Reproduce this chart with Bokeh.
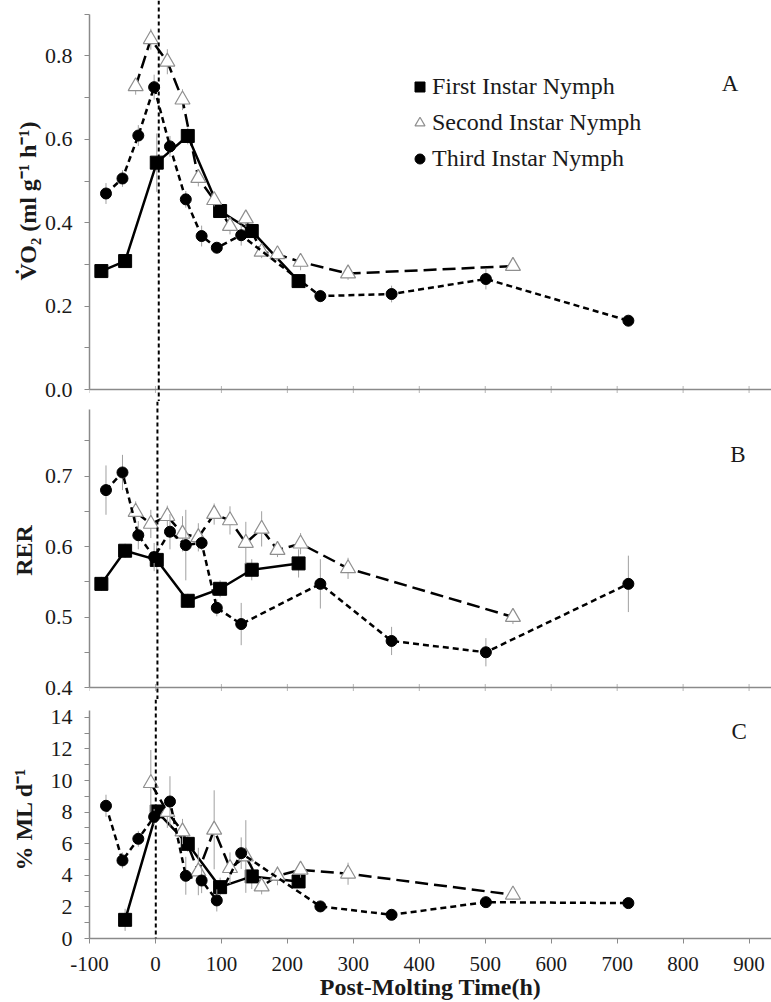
import math
from bokeh.plotting import figure
from bokeh.layouts import column
from bokeh.models import (ColumnDataSource, FixedTicker, PrintfTickFormatter, Span,
                          Label, Legend, LegendItem, Range1d)
from bokeh.embed import file_html
from bokeh.resources import INLINE

# ---------------- data ----------------
# sampling times (h) for each instar
T1 = [-82, -46, 2, 49, 98, 146, 217]
T2 = [-30, -7, 18, 41, 65, 89, 113, 137, 161, 185, 220, 292, 542]
T3 = [-75, -50, -26, -2, 22, 46, 70, 93, 130, 250, 358, 501, 717]

# Panel A: VO2 (ml g-1 h-1)
VO2_FIRST = [0.284, 0.308, 0.544, 0.608, 0.428, 0.380, 0.260]
VO2_FIRST_ERR = [0.01, 0.01, 0.07, 0.02, 0.01, 0.015, 0.01]
VO2_SECOND = [0.727, 0.840, 0.786, 0.695, 0.507, 0.454, 0.392, 0.410, 0.330, 0.324, 0.306, 0.278, 0.296]
VO2_SECOND_ERR = [0.02, 0.025, 0.03, 0.025, 0.02, 0.015, 0.02, 0.02, 0.015, 0.015, 0.02, 0.015, 0.01]
VO2_THIRD = [0.470, 0.506, 0.609, 0.725, 0.583, 0.456, 0.368, 0.340, 0.370, 0.224, 0.229, 0.265, 0.165]
VO2_THIRD_ERR = [0.025, 0.02, 0.025, 0.03, 0.025, 0.02, 0.025, 0.01, 0.025, 0.015, 0.02, 0.025, 0.01]

# Panel B: RER
RER_FIRST = [0.547, 0.594, 0.581, 0.523, 0.540, 0.567, 0.576]
RER_FIRST_ERR = [0.01, 0.01, 0.02, 0.01, 0.012, 0.015, 0.02]
RER_SECOND = [0.649, 0.632, 0.643, 0.618, 0.613, 0.646, 0.637, 0.605, 0.625, 0.595, 0.604, 0.569, 0.500]
RER_SECOND_ERR = [0.015, 0.02, 0.015, 0.025, 0.02, 0.015, 0.02, 0.03, 0.025, 0.01, 0.015, 0.015, 0.01]
RER_THIRD = [0.680, 0.705, 0.616, 0.585, 0.621, 0.602, 0.605, 0.513, 0.490, 0.547, 0.466, 0.450, 0.547]
RER_THIRD_ERR = [0.035, 0.025, 0.02, 0.02, 0.025, 0.05, 0.01, 0.012, 0.03, 0.035, 0.02, 0.02, 0.04]

# Panel C: % ML d-1 (first and second instar start at their 2nd sampling time)
ML_FIRST = [1.18, 8.04, 5.99, 3.25, 3.93, 3.61]
ML_FIRST_ERR = [0.7, 0.4, 0.5, 0.6, 0.8, 0.3]
ML_SECOND = [9.83, 8.0, 6.77, 4.24, 6.88, 4.45, 5.19, 3.29, 3.97, 4.35, 4.1, 2.77]
ML_SECOND_ERR = [2.1, 1.0, 0.8, 1.5, 2.5, 1.0, 2.3, 0.5, 0.6, 0.5, 0.7, 0.3]
ML_THIRD = [8.40, 4.94, 6.31, 7.7, 8.67, 3.97, 3.67, 2.41, 5.40, 2.03, 1.50, 2.30, 2.24]
ML_THIRD_ERR = [0.7, 0.5, 0.5, 0.5, 1.6, 1.2, 0.8, 0.7, 1.0, 0.2, 0.2, 0.2, 0.2]

SERIES_NAMES = ["First Instar Nymph", "Second Instar Nymph", "Third Instar Nymph"]
X_TICKS = [-100, 0, 100, 200, 300, 400, 500, 600, 700, 800, 900]

# ---------------- styling ----------------
SERIF = "Liberation Serif"
AXIS_GREY = "#8a8a8a"
ERR_GREY = "#a0a0a0"
TXT = "#1a1a1a"

x_range = Range1d(-100, 934)


def style_y(p, major, minor, bounds, fmt, label, standoff):
    ax = p.yaxis[0]
    ax.ticker = FixedTicker(ticks=major, minor_ticks=minor)
    ax.formatter = PrintfTickFormatter(format=fmt)
    ax.bounds = bounds
    ax.axis_line_color = AXIS_GREY
    ax.axis_line_width = 1.5
    ax.major_tick_line_color = AXIS_GREY
    ax.minor_tick_line_color = AXIS_GREY
    ax.major_tick_out = 5
    ax.major_tick_in = 0
    ax.minor_tick_out = 5
    ax.minor_tick_in = 0
    ax.major_label_text_font = SERIF
    ax.major_label_text_font_size = "22px"
    ax.major_label_text_color = TXT
    ax.major_label_standoff = 12
    ax.axis_label = label
    ax.axis_label_text_font = SERIF
    ax.axis_label_text_font_style = "bold"
    ax.axis_label_text_font_size = "24px"
    ax.axis_label_text_color = TXT
    ax.axis_label_standoff = standoff


def make_panel(frame_h, y0, y1, with_x_axis):
    p = figure(frame_width=682, frame_height=frame_h, x_range=x_range,
               y_range=Range1d(y0, y1), output_backend="svg", toolbar_location=None,
               min_border_left=89, min_border_right=0, min_border_top=0,
               min_border_bottom=0,
               x_axis_location="below" if with_x_axis else None)
    p.grid.visible = False
    p.outline_line_color = None
    p.background_fill_color = "white"
    p.border_fill_color = "white"
    return p


def baseline(p, yv):
    # horizontal axis line of a panel without tick labels, with its small ticks
    p.add_layout(Span(location=yv, dimension="width", line_color=AXIS_GREY,
                      line_width=1.5))
    p.scatter(x=X_TICKS, y=[yv] * len(X_TICKS), marker="dash", angle=math.pi / 2,
              size=7, line_color="#b5b5b5", line_width=1)


def add_series(p, t, v, e, kind):
    src = ColumnDataSource(dict(t=t, v=v,
                                lo=[a - b for a, b in zip(v, e)],
                                hi=[a + b for a, b in zip(v, e)]))
    p.segment(x0="t", y0="lo", x1="t", y1="hi", source=src,
              line_color=ERR_GREY, line_width=1)
    if kind == 1:
        p.line("t", "v", source=src, line_color="black", line_width=2.5)
        r = p.scatter("t", "v", source=src, marker="square", size=13,
                      fill_color="black", line_color="black")
    elif kind == 2:
        p.line("t", "v", source=src, line_color="black", line_width=2.5,
               line_dash="13 6")
        r = p.scatter("t", "v", source=src, marker="triangle", size=15,
                      fill_color="white", line_color="#8f8f8f", line_width=1.2)
    else:
        p.line("t", "v", source=src, line_color="black", line_width=2.5,
               line_dash="6 4")
        r = p.scatter("t", "v", source=src, marker="circle", size=11,
                      fill_color="black", line_color="black")
    return r


def panel_letter(p, x, y, txt):
    p.add_layout(Label(x=x, y=y, text=txt, text_font=SERIF, text_font_size="23px",
                       text_color=TXT, text_align="center", text_baseline="middle"))


def molt_line(p, x):
    p.add_layout(Span(location=x, dimension="height", line_color="black",
                      line_width=2, line_dash="4 3"))


# ---------------- panel A ----------------
pa = make_panel(401, -12 / 417, 389 / 417, False)
style_y(pa, [0, 0.2, 0.4, 0.6, 0.8], [0.1, 0.3, 0.5, 0.7, 0.9], (0, 0.9), "%.1f",
        "V\u0307O\u2082 (ml g\u207b\u00b9 h\u207b\u00b9)", 1)
baseline(pa, 0)
molt_line(pa, 5)
ra1 = add_series(pa, T1, VO2_FIRST, VO2_FIRST_ERR, 1)
ra2 = add_series(pa, T2, VO2_SECOND, VO2_SECOND_ERR, 2)
ra3 = add_series(pa, T3, VO2_THIRD, VO2_THIRD_ERR, 3)
panel_letter(pa, 871, 0.734, "A")
legend = Legend(items=[LegendItem(label=SERIES_NAMES[0], renderers=[ra1]),
                       LegendItem(label=SERIES_NAMES[1], renderers=[ra2]),
                       LegendItem(label=SERIES_NAMES[2], renderers=[ra3])],
                location=(318, 229), orientation="vertical",
                glyph_width=25, glyph_height=25, label_standoff=0, spacing=9,
                padding=0, margin=0, border_line_color=None,
                background_fill_alpha=0,
                label_text_font=SERIF, label_text_font_size="24px",
                label_text_color=TXT)
pa.add_layout(legend)

# ---------------- panel B ----------------
pb = make_panel(298, 0.4 - 12 / 705, 0.4 + 286 / 705, False)
style_y(pb, [0.4, 0.5, 0.6, 0.7], [0.45, 0.55, 0.65, 0.75], (0.4, 0.795), "%.1f",
        "RER", 5)
baseline(pb, 0.4)
molt_line(pb, 3)
add_series(pb, T1, RER_FIRST, RER_FIRST_ERR, 1)
add_series(pb, T2, RER_SECOND, RER_SECOND_ERR, 2)
add_series(pb, T3, RER_THIRD, RER_THIRD_ERR, 3)
panel_letter(pb, 883, 0.731, "B")

# ---------------- panel C ----------------
pc = make_panel(239, 0, 239 / 15.8, True)
style_y(pc, [0, 2, 4, 6, 8, 10, 12, 14], [1, 3, 5, 7, 9, 11, 13], (0, 14.4), "%d",
        "% ML d\u207b\u00b9", 11)
ax = pc.xaxis[0]
ax.ticker = FixedTicker(ticks=X_TICKS, minor_ticks=[])
ax.formatter = PrintfTickFormatter(format="%d")
ax.axis_line_color = AXIS_GREY
ax.axis_line_width = 1.5
ax.major_tick_line_color = AXIS_GREY
ax.major_tick_out = 5
ax.major_tick_in = 0
ax.minor_tick_line_color = None
ax.major_label_text_font = SERIF
ax.major_label_text_font_size = "21px"
ax.major_label_text_color = TXT
ax.major_label_standoff = 13
ax.axis_label = "Post-Molting Time(h)"
ax.axis_label_text_font = SERIF
ax.axis_label_text_font_style = "bold"
ax.axis_label_text_font_size = "24px"
ax.axis_label_text_color = TXT
ax.axis_label_standoff = 0
molt_line(pc, 0.5)
add_series(pc, T1[1:], ML_FIRST, ML_FIRST_ERR, 1)
add_series(pc, T2[1:], ML_SECOND, ML_SECOND_ERR, 2)
add_series(pc, T3, ML_THIRD, ML_THIRD_ERR, 3)
panel_letter(pc, 885, 13.1, "C")

layout = column(pa, pb, pc, spacing=0)
open("out.html", "w").write(file_html(layout, INLINE, title="Post-molting metabolism"))
